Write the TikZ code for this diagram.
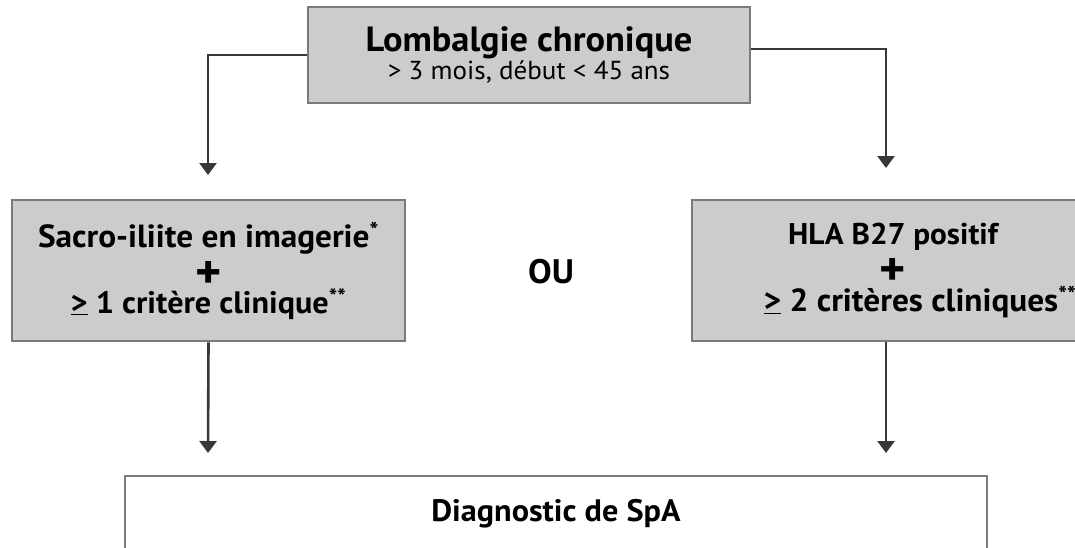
\documentclass[tikz,border=0pt]{standalone}
\usepackage{fontspec}
\setmainfont{PT Sans}[FakeStretch=1.04]
\usetikzlibrary{arrows.meta}
\definecolor{boxfill}{HTML}{CCCCCC}
\definecolor{boxline}{HTML}{7A7A7A}
\definecolor{arrline}{HTML}{383838}
\tikzset{
  box/.style={draw=boxline, line width=2.6pt, fill=boxfill, inner sep=0pt, align=center},
  whitebox/.style={draw=boxline, line width=2.6pt, fill=white, inner sep=0pt, align=center},
  conn/.style={draw=arrline, line width=2.6pt, -{Triangle[width=17pt,length=12pt]}},
  mid/.style={font=\fontsize{32}{33}\selectfont\bfseries},
}
\newcommand{\plusline}{\raisebox{-8pt}{\fontsize{48}{33}\selectfont\bfseries +}}
\begin{document}
\begin{tikzpicture}[x=1pt,y=1pt]
\clip (0,0) rectangle (1075,-547);
\fill[white] (0,0) rectangle (1075,-547);

\node[box, minimum width=442pt, minimum height=96pt] (top) at (529,-55)
  {{\fontsize{35}{38}\selectfont\bfseries Lombalgie chronique}\\
   {\fontsize{26}{38}\selectfont > 3 mois, début < 45 ans}};

\node[box, mid, minimum width=393pt, minimum height=141pt] (left) at (208.5,-270.5)
  {Sacro-iliite en imagerie\textsuperscript{*}\\ \plusline\\
   {\fontsize{31}{33}\selectfont\underline{>} 1 critère clinique\textsuperscript{**}}};

\node[box, mid, minimum width=402pt, minimum height=141pt] (right) at (893,-270.5)
  {{\fontsize{30}{33}\selectfont HLA B27 positif}\\ \plusline\\
   \hspace*{54pt}\underline{>} 2 critères cliniques\textsuperscript{**}};

\node[font=\fontsize{34}{34}\selectfont\bfseries] (ou) at (551,-272) {OU};

\node[whitebox, minimum width=862pt, minimum height=76pt, font=\fontsize{31}{31}\selectfont\bfseries] (diag) at (556,-514)
  {Diagnostic de SpA};

\coordinate (t1) at (208,-175);
\coordinate (t2) at (886,-168);
\coordinate (t3) at (208,-453);
\coordinate (t4) at (886,-453);

\draw[conn] (top.west) -| (t1);
\draw[conn] ([yshift=6pt]top.east) -| (t2);
\draw[conn] (left.south) -- (t3);
\draw[conn] (right.south -| t4) -- (t4);
\end{tikzpicture}
\end{document}
